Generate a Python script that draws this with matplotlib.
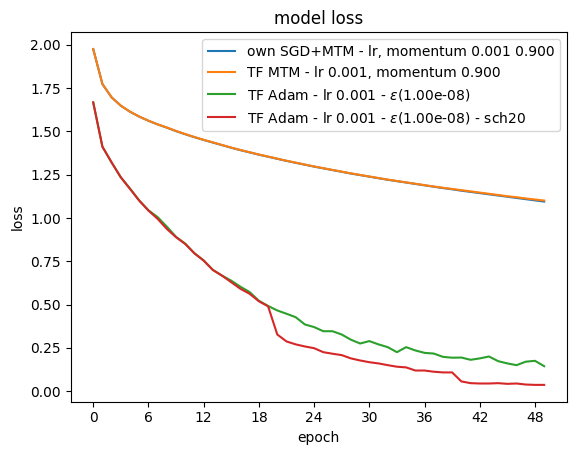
import matplotlib
matplotlib.use('Agg')
import matplotlib.pyplot as plt
from matplotlib.ticker import MaxNLocator

epochs = list(range(50))

sgd_mtm = [1.976, 1.774, 1.697, 1.649, 1.614, 1.586, 1.562, 1.541, 1.522, 1.502,
           1.484, 1.467, 1.451, 1.436, 1.421, 1.406, 1.392, 1.379, 1.366, 1.354,
           1.342, 1.330, 1.319, 1.308, 1.297, 1.287, 1.277, 1.267, 1.257, 1.248,
           1.239, 1.230, 1.221, 1.213, 1.205, 1.197, 1.189, 1.181, 1.173, 1.166,
           1.158, 1.151, 1.144, 1.137, 1.130, 1.123, 1.116, 1.109, 1.102, 1.095]
tf_mtm = [1.976, 1.774, 1.697, 1.649, 1.614, 1.586, 1.562, 1.541, 1.523, 1.503,
          1.485, 1.468, 1.452, 1.437, 1.422, 1.407, 1.393, 1.380, 1.367, 1.355,
          1.343, 1.331, 1.320, 1.309, 1.298, 1.288, 1.278, 1.268, 1.258, 1.249,
          1.240, 1.231, 1.222, 1.214, 1.206, 1.198, 1.190, 1.182, 1.175, 1.168,
          1.161, 1.154, 1.147, 1.140, 1.133, 1.126, 1.120, 1.113, 1.107, 1.101]
adam = [1.668, 1.412, 1.321, 1.235, 1.170, 1.102, 1.045, 1.005, 0.950, 0.891,
        0.852, 0.796, 0.755, 0.700, 0.667, 0.638, 0.603, 0.572, 0.522, 0.492,
        0.466, 0.447, 0.427, 0.385, 0.370, 0.346, 0.346, 0.327, 0.297, 0.275,
        0.289, 0.270, 0.254, 0.225, 0.254, 0.235, 0.221, 0.217, 0.198, 0.193,
        0.194, 0.181, 0.189, 0.200, 0.173, 0.160, 0.150, 0.170, 0.175, 0.144]
adam_sch = [1.668, 1.412, 1.321, 1.235, 1.168, 1.100, 1.043, 0.995, 0.937, 0.889,
            0.850, 0.796, 0.754, 0.700, 0.667, 0.629, 0.591, 0.562, 0.519, 0.490,
            0.327, 0.287, 0.270, 0.258, 0.248, 0.225, 0.216, 0.208, 0.189, 0.177,
            0.167, 0.160, 0.150, 0.141, 0.137, 0.119, 0.119, 0.112, 0.108, 0.108,
            0.056, 0.046, 0.044, 0.044, 0.046, 0.042, 0.044, 0.038, 0.036, 0.036]

labels = ['own SGD+MTM - lr, momentum 0.001 0.900',
          'TF MTM - lr 0.001, momentum 0.900',
          r'TF Adam - lr 0.001 - $\epsilon$(1.00e-08)',
          r'TF Adam - lr 0.001 - $\epsilon$(1.00e-08) - sch20']

fig = plt.figure(figsize=(5.76, 4.55), dpi=100)
ax = fig.add_subplot(1, 1, 1)
fig.subplots_adjust(left=0.1227, right=0.9839, bottom=0.1172, top=0.929)

for series, lab in zip([sgd_mtm, tf_mtm, adam, adam_sch], labels):
    ax.plot(epochs, series, label=lab)

ax.xaxis.set_major_locator(MaxNLocator(integer=True))
ax.set_title('model loss')
ax.set_xlabel('epoch')
ax.set_ylabel('loss')
ax.legend(loc='upper right')
fig.savefig('out.png', dpi=100)
